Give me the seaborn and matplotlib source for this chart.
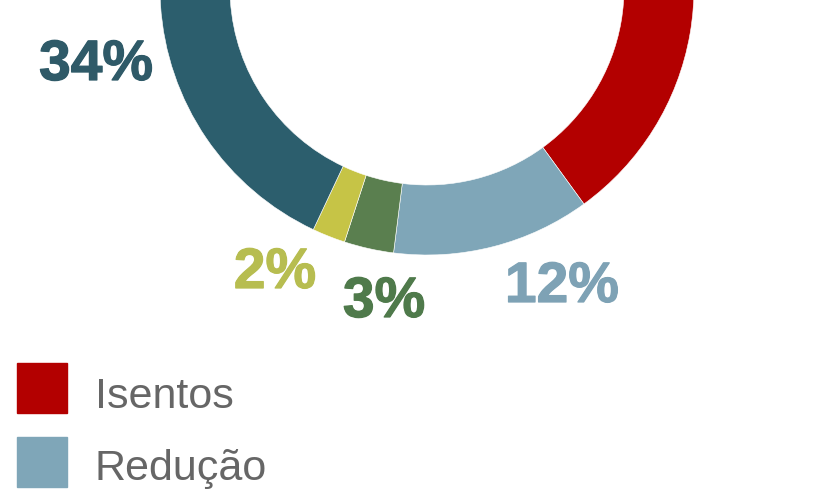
import matplotlib
matplotlib.use("Agg")
import matplotlib.pyplot as plt
import matplotlib.patheffects as pe
import seaborn as sns
from matplotlib.patches import Rectangle

# data
categorias = ["Isentos", "Redução", "Outros 3", "Outros 2", "Outros 34"]
valores = [49, 12, 3, 2, 34]
rotulos = ["", "12%", "3%", "2%", "34%"]
cores = ["#b30000", "#7fa6b8", "#5a7f4f", "#c6c446", "#2c5e6d"]
cores_rotulo = ["#b30000", "#7ea2b5", "#4f7a4b", "#b7bd50", "#2f5a68"]
legenda = ["Isentos", "Redução"]

sns.set_theme(style="white")
plt.rcParams['font.family'] = ['Liberation Sans', 'DejaVu Sans']

fig = plt.figure(figsize=(8.4, 5.0), dpi=100)
ax = fig.add_axes([0, 0, 1, 1])

paleta = sns.color_palette(cores)
ax.pie(valores, colors=paleta, startangle=122.4, counterclock=False,
       center=(427, 512), radius=267, frame=True,
       wedgeprops=dict(width=70, edgecolor="white", linewidth=0.4))

# percent labels (pixel positions, y measured from top)
pos_rotulo = {"34%": (96, 80), "2%": (275, 288), "3%": (384, 317), "12%": (562, 302)}
for r, c in zip(rotulos, cores_rotulo):
    if not r:
        continue
    x, y = pos_rotulo[r]
    t = ax.text(x, 500 - y, r, color=c, fontsize=41, fontweight="bold",
                ha="center", va="baseline")
    t.set_path_effects([pe.withStroke(linewidth=0.9, foreground=c)])

# legend
for i, (nome, c) in enumerate(zip(legenda, cores[:2])):
    topo = 363 + i * 74
    ax.add_patch(Rectangle((17, 500 - topo - 50), 50, 50, color=c))
    ax.text(95, 500 - (408 + i * 72), nome, color="#666666", fontsize=31,
            ha="left", va="baseline")

ax.set_xlim(0, 840)
ax.set_ylim(0, 500)
ax.set_aspect("equal")
ax.axis("off")

fig.savefig("out.png", dpi=100)
